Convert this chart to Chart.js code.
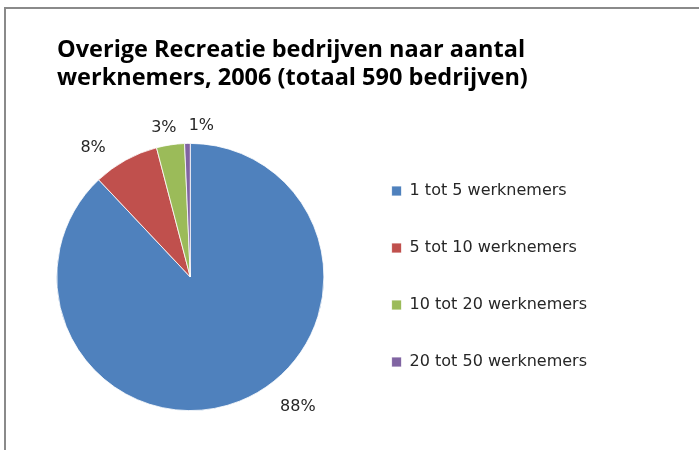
<!DOCTYPE html>
<html>
<head>
<meta charset="utf-8">
<script src="https://cdn.jsdelivr.net/npm/chart.js@4/dist/chart.umd.min.js"></script>
<style>
  html, body { margin: 0; padding: 0; background: #fff; }
  #wrap { position: relative; width: 699px; height: 450px; overflow: hidden; }
  #frame { position: absolute; left: 4px; top: 7px; width: 740px; height: 480px; border: 2px solid #8a8a8a; }
  #c { position: absolute; left: 0; top: 0; }
</style>
</head>
<body>
<div id="wrap">
  <div id="frame"></div>
  <canvas id="c" width="699" height="450"></canvas>
</div>
<script>
// Overige Recreatie bedrijven naar aantal werknemers, 2006 (totaal 590)
const categories = ['1 tot 5 werknemers', '5 tot 10 werknemers', '10 tot 20 werknemers', '20 tot 50 werknemers'];
const bedrijven = [519, 47, 20, 4];
const sliceColors = ['#4F81BD', '#C0504D', '#9BBB59', '#8064A2'];
const titleLines = ['Overige Recreatie bedrijven naar aantal', 'werknemers, 2006 (totaal 590 bedrijven)'];

// percentage labels outside the pie, nudged a bit like Excel's "best fit"
const outsideLabels = {
    id: 'outsideLabels',
    afterDatasetsDraw(chart, args, opts) {
        const ctx = chart.ctx;
        const meta = chart.getDatasetMeta(0);
        const data = chart.data.datasets[0].data;
        const total = data.reduce((a, b) => a + b, 0);
        ctx.save();
        ctx.font = opts.font;
        ctx.fillStyle = opts.color;
        ctx.textAlign = 'center';
        ctx.textBaseline = 'middle';
        meta.data.forEach((arc, i) => {
            const p = arc.getProps(['x', 'y', 'startAngle', 'endAngle', 'outerRadius'], true);
            const mid = (p.startAngle + p.endAngle) / 2 + opts.nudge[i] * Math.PI / 180;
            const r = p.outerRadius + opts.gap[i];
            const txt = Math.round(data[i] / total * 100) + '%';
            ctx.fillText(txt, p.x + Math.cos(mid) * r, p.y + Math.sin(mid) * r);
        });
        ctx.restore();
    }
};

// shift the title so it starts where Excel put it
const titleIndent = {
    id: 'titleIndent',
    afterLayout(chart, args, opts) {
        if (chart.titleBlock) chart.titleBlock.left += opts.by;
    }
};

new Chart(document.getElementById('c'), {
    type: 'pie',
    data: {
        labels: categories,
        datasets: [{
            data: bedrijven,
            backgroundColor: sliceColors,
            borderColor: '#ffffff',
            borderWidth: 0.8
        }]
    },
    options: {
        responsive: false,
        animation: false,
        layout: { padding: { left: 30, right: 102, top: 0, bottom: 39 } },
        plugins: {
            title: {
                display: true,
                text: titleLines,
                align: 'start',
                color: '#000',
                font: { family: 'Open Sans', size: 23.5, weight: 'bold', lineHeight: 1.2 },
                padding: { top: 36, bottom: 50.6 }
            },
            legend: {
                position: 'right',
                align: 'end',
                labels: {
                    color: '#262626',
                    font: { family: 'DejaVu Sans', size: 16 },
                    boxWidth: 10,
                    boxHeight: 10,
                    padding: 41
                }
            },
            tooltip: { enabled: false },
            outsideLabels: {
                font: '16px "DejaVu Sans"',
                color: '#262626',
                nudge: [-18, -8, -1.5, 5.4],
                gap: [35, 28, 18, 18]
            },
            titleIndent: { by: 27 }
        }
    },
    plugins: [outsideLabels, titleIndent]
});
</script>
</body>
</html>
